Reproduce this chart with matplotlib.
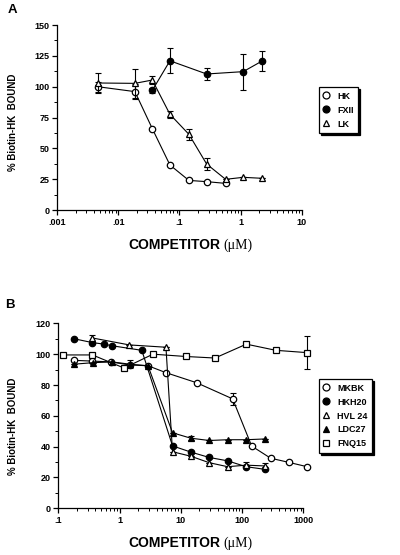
import numpy as np
import matplotlib
matplotlib.use('Agg')
import matplotlib.pyplot as plt
from matplotlib.ticker import FixedLocator, NullFormatter, LogLocator

plt.rcParams['font.family'] = ['Liberation Sans', 'DejaVu Sans']
plt.rcParams['font.weight'] = 'bold'

# Panel A data (competitor in uM, % bound)
hk_x = [0.0046, 0.0187, 0.036, 0.070, 0.143, 0.279, 0.57]
hk_y = [100, 96, 66, 36.5, 24, 23, 21.6]
hk_err = [4, 6, 0, 0, 0, 0, 0]

fxii_x = [0.036, 0.070, 0.279, 1.107, 2.29]
fxii_y = [97, 121, 110.3, 112.2, 121]
fxii_err = [2, 10, 4.5, 14.5, 8]

lk_x = [0.0046, 0.0187, 0.036, 0.070, 0.143, 0.279, 0.57, 1.107, 2.29]
lk_y = [103, 102.7, 105.4, 77.6, 61.4, 37.3, 24.9, 26.5, 25.7]
lk_err = [8, 11.5, 3, 3, 4.5, 5, 0, 0, 0]

# Panel B data
mkbk_x = [0.18, 0.36, 0.72, 1.45, 2.9, 5.7, 18, 70, 143, 292, 580, 1150]
mkbk_y = [96, 95.5, 95, 93, 92.5, 88, 81.5, 71, 40.4, 32.5, 29.8, 27]
mkbk_err = [0, 0, 0, 0, 0, 0, 0, 4, 0, 0, 0, 0]

hkh20_x = [0.18, 0.36, 0.56, 0.74, 2.3, 7.3, 14.5, 29, 58, 116, 235]
hkh20_y = [110, 107.5, 106.5, 105.5, 102.5, 40.5, 36.5, 33, 30.8, 27, 25.3]

hvl24_x = [0.36, 1.44, 5.7, 7.3, 14.5, 29, 58, 116, 235]
hvl24_y = [110.5, 106, 104.5, 36.7, 33.8, 29.6, 27, 28, 27.5]
hvl24_err = [2, 0, 0, 0, 0, 0, 0, 2, 2]

ldc27_x = [0.18, 0.37, 0.74, 1.47, 2.9, 7.3, 14.5, 29, 58, 116, 235]
ldc27_y = [93.5, 94.5, 95, 93.5, 92.5, 49, 45.5, 44, 44.5, 44.5, 45]
ldc27_err = [0, 0, 0, 2.5, 0, 0, 1.5, 0, 0, 0, 0]

fnq15_x = [0.12, 0.36, 1.18, 3.5, 12, 36, 117, 355, 1150]
fnq15_y = [99.5, 99.5, 91, 100, 98.5, 97.5, 106.5, 102.5, 101]
fnq15_err = [0, 0, 0, 0, 0, 0, 0, 0, 10.5]

fig = plt.figure(figsize=(4, 5.55), dpi=100)
axA = fig.add_axes([0.143, 0.6216, 0.611, 0.3333])
axB = fig.add_axes([0.146, 0.0841, 0.6125, 0.3333])

ms = 4.6
lw = 0.8


def series(ax, x, y, err, marker, filled, label, z):
    mfc = 'black' if filled else 'white'
    if err is not None and any(e > 0 for e in err):
        ax.errorbar(x, y, yerr=err, fmt='none', ecolor='black', elinewidth=0.8,
                    capsize=2, capthick=0.8, zorder=z, clip_on=False)
    ax.plot(x, y, color='black', lw=lw, marker=marker, ms=ms, mfc=mfc,
            mec='black', mew=0.9, label=label, zorder=z + 1, clip_on=False)


def style(ax, xmin, xmax, ymax, ymaj, ymin_step, xlabels):
    ax.set_xscale('log')
    ax.set_xlim(xmin, xmax)
    ax.set_ylim(0, ymax)
    for s in ['top', 'right']:
        ax.spines[s].set_visible(False)
    for s in ['left', 'bottom']:
        ax.spines[s].set_linewidth(0.9)
    decades = [xmin * 10 ** i for i in range(len(xlabels))]
    ax.xaxis.set_major_locator(FixedLocator(decades))
    ax.set_xticklabels(xlabels)
    ax.xaxis.set_minor_locator(LogLocator(base=10, subs=np.arange(2, 10)))
    ax.xaxis.set_minor_formatter(NullFormatter())
    ax.set_yticks(np.arange(0, ymax + 1, ymaj))
    ax.set_yticks(np.arange(0, ymax + 0.1, ymin_step), minor=True)
    ax.tick_params(which='major', direction='out', length=3.5, width=0.9,
                   labelsize=6.5, pad=2)
    ax.tick_params(which='minor', direction='out', length=2, width=0.7)


series(axA, hk_x, hk_y, hk_err, 'o', False, 'HK', 3)
series(axA, fxii_x, fxii_y, fxii_err, 'o', True, 'FXII', 4)
series(axA, lk_x, lk_y, lk_err, '^', False, 'LK', 5)
style(axA, 0.001, 10, 150, 25, 12.5, ['.001', '.01', '.1', '1', '10'])

series(axB, mkbk_x, mkbk_y, mkbk_err, 'o', False, 'MKBK', 3)
series(axB, hkh20_x, hkh20_y, None, 'o', True, 'HKH20', 5)
series(axB, hvl24_x, hvl24_y, hvl24_err, '^', False, 'HVL 24', 7)
series(axB, ldc27_x, ldc27_y, ldc27_err, '^', True, 'LDC27', 9)
series(axB, fnq15_x, fnq15_y, fnq15_err, 's', False, 'FNQ15', 11)
style(axB, 0.1, 1000, 120, 20, 10, ['.1', '1', '10', '100', '1000'])

for ax, top in [(axA, 0.843), (axB, 0.317)]:
    handles, labels = ax.get_legend_handles_labels()
    leg = ax.legend(handles, labels, loc='upper left', bbox_to_anchor=(0.798, top),
                    bbox_transform=fig.transFigure, fontsize=6.5, frameon=True,
                    fancybox=False,
                    shadow={'color': 'black', 'alpha': 1, 'ox': 1.6, 'oy': -1.6},
                    handlelength=0.6, handletextpad=0.9, labelspacing=0.55,
                    borderpad=0.5, borderaxespad=0)
    leg.get_frame().set_edgecolor('black')
    leg.get_frame().set_linewidth(0.9)
    for h in leg.legend_handles:
        h.set_linestyle('none')
        h.set_markersize(5)

# axis titles
for ytxt, ylab in [(0.5586, 0.779), (0.0216, 0.2315)]:
    fig.text(0.55, ytxt, 'COMPETITOR', ha='right', va='center', fontsize=10,
             fontweight='bold')
    fig.text(0.558, ytxt, '(\u03bcM)', ha='left', va='center', fontsize=10,
             family='Liberation Serif', fontweight='normal')
    fig.text(0.033, ylab, '% Biotin-HK  BOUND', rotation=90, ha='center',
             va='center', fontsize=7)

fig.text(0.03, 0.982, 'A', ha='center', va='center', fontsize=9.5, fontweight='bold')
fig.text(0.025, 0.45, 'B', ha='center', va='center', fontsize=9.5, fontweight='bold')

fig.savefig('out.png', dpi=100)
